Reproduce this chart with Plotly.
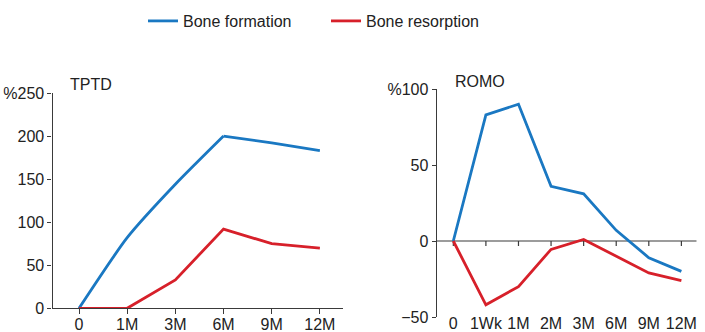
import plotly.graph_objects as go

# ---- data ----
tptd_labels = ["0", "1M", "3M", "6M", "9M", "12M"]
tptd_formation = [0, 82, 144, 200, 192, 183]
tptd_resorption = [0, 0, 33, 92, 75, 70]

romo_labels = ["0", "1Wk", "1M", "2M", "3M", "6M", "9M", "12M"]
romo_formation = [0, 83, 90, 36, 31, 7, -11, -20]
romo_resorption = [0, -42, -30, -5.5, 1, -10, -21, -26]

tptd_yticks = [0, 50, 100, 150, 200, 250]
tptd_yticktext = ["0", "50", "100", "150", "200", "%250"]
romo_yticks = [-50, 0, 50, 100]
romo_yticktext = ["\u221250", "0", "50", "%100"]

BLUE = "#1a78c2"
RED = "#d7202a"
AX = "#3a3a3a"
TXT = "#222222"
FONT = "Arial, Liberation Sans, Helvetica, sans-serif"
LW = 2.8

W, H = 705, 332

fig = go.Figure()

# TPTD formation: smooth rise to 6M, then straight
k = tptd_labels.index("6M")
fig.add_trace(go.Scatter(x=tptd_labels[:k + 1], y=tptd_formation[:k + 1], mode="lines",
                         line=dict(color=BLUE, width=LW, shape="spline", smoothing=0.6),
                         name="Bone formation", legendgroup="f", cliponaxis=False,
                         xaxis="x", yaxis="y"))
fig.add_trace(go.Scatter(x=tptd_labels[k:], y=tptd_formation[k:], mode="lines",
                         line=dict(color=BLUE, width=LW), name="Bone formation",
                         legendgroup="f", showlegend=False, cliponaxis=False,
                         xaxis="x", yaxis="y"))
fig.add_trace(go.Scatter(x=tptd_labels, y=tptd_resorption, mode="lines",
                         line=dict(color=RED, width=LW), name="Bone resorption",
                         legendgroup="r", cliponaxis=False, xaxis="x", yaxis="y"))

fig.add_trace(go.Scatter(x=romo_labels, y=romo_formation, mode="lines",
                         line=dict(color=BLUE, width=LW), name="Bone formation",
                         legendgroup="f", showlegend=False, cliponaxis=False,
                         xaxis="x2", yaxis="y2"))
fig.add_trace(go.Scatter(x=romo_labels, y=romo_resorption, mode="lines",
                         line=dict(color=RED, width=LW), name="Bone resorption",
                         legendgroup="r", showlegend=False, cliponaxis=False,
                         xaxis="x2", yaxis="y2"))

# pixel-based domains
def px_x(a, b):
    return [a / W, b / W]

def px_y(top, bottom):
    return [(H - bottom) / H, (H - top) / H]

x1_range = [-0.55, len(tptd_labels) - 1 + 0.48]
x2_range = [-0.51, len(romo_labels) - 1 + 0.47]

common_x = dict(type="category", showgrid=False, zeroline=False, automargin=False,
                tickfont=dict(family=FONT, size=16, color=TXT))
common_y = dict(showgrid=False, zeroline=False, showline=True, linecolor=AX,
                linewidth=1.2, ticks="outside", ticklen=4, tickcolor=AX, tickwidth=1.2,
                automargin=False, tickfont=dict(family=FONT, size=16, color=TXT))

fig.update_layout(
    width=W, height=H,
    margin=dict(l=0, r=0, t=0, b=0),
    paper_bgcolor="white", plot_bgcolor="white",
    font=dict(family=FONT, size=16, color=TXT),
    showlegend=True,
    legend=dict(orientation="h", x=143 / W, xanchor="left", y=(H - 21) / H,
                yanchor="middle", font=dict(family=FONT, size=16, color=TXT),
                entrywidth=138, entrywidthmode="pixels",
                bgcolor="rgba(0,0,0,0)", borderwidth=0),
    xaxis=dict(common_x, domain=px_x(52.5, 343), anchor="y", range=x1_range,
               showline=True, linecolor=AX, linewidth=1.2,
               ticks="outside", ticklen=5, tickcolor=AX, tickwidth=1.2,
               ticklabelstandoff=-4),
    yaxis=dict(common_y, domain=px_y(93, 308.3), anchor="x", range=[0, 250],
               tickvals=tptd_yticks, ticktext=tptd_yticktext),
    xaxis2=dict(common_x, domain=px_x(436.7, 696.7), anchor="y2", range=x2_range,
                showline=False, ticks="outside", ticklen=1, tickcolor="rgba(0,0,0,0)",
                ticklabelstandoff=-9),
    yaxis2=dict(common_y, domain=px_y(89, 317), anchor="x2", range=[-50, 100],
                tickvals=romo_yticks, ticktext=romo_yticktext),
)

# ROMO zero baseline with downward tick marks
shapes = [dict(type="line", xref="x2", yref="y2", x0=x2_range[0], x1=x2_range[1],
               y0=0, y1=0, line=dict(color=AX, width=1.2), layer="below")]
for i in range(len(romo_labels)):
    shapes.append(dict(type="line", xref="x2", yref="y2", x0=i, x1=i,
                       ysizemode="pixel", yanchor=0, y0=0, y1=-5,
                       line=dict(color=AX, width=1.2), layer="below"))
fig.update_layout(shapes=shapes)

fig.add_annotation(text="TPTD", xref="paper", yref="paper", x=68 / W, y=(H - 84) / H,
                   xanchor="left", yanchor="middle", showarrow=False,
                   font=dict(family=FONT, size=16, color=TXT))
fig.add_annotation(text="ROMO", xref="paper", yref="paper", x=453 / W, y=(H - 81) / H,
                   xanchor="left", yanchor="middle", showarrow=False,
                   font=dict(family=FONT, size=16, color=TXT))

fig.write_html("out.html")
